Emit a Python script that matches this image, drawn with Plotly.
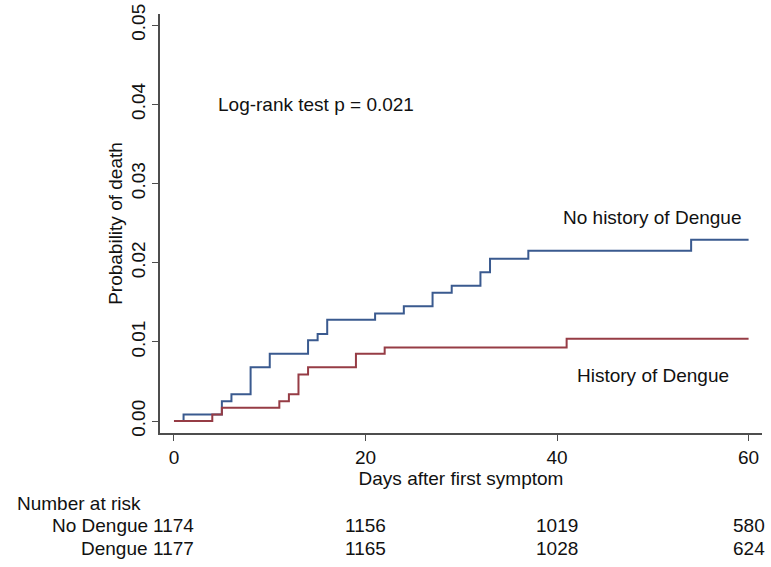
import plotly.graph_objects as go

# Kaplan-Meier step data (day, cumulative probability of death)
no_dengue_days = [0, 1, 5, 6, 8, 10, 14, 15, 16, 21, 24, 27, 29, 32, 33, 37, 54, 60]
no_dengue_prob = [0.0, 0.00085, 0.0025, 0.0034, 0.0068, 0.0085, 0.0102, 0.0110, 0.0128,
                  0.0136, 0.0145, 0.0162, 0.0171, 0.0188, 0.0205, 0.0215, 0.0229, 0.0229]

dengue_days = [0, 4, 5, 11, 12, 13, 14, 19, 22, 41, 60]
dengue_prob = [0.0, 0.00085, 0.0017, 0.0025, 0.0034, 0.0059, 0.0068, 0.0085, 0.0093,
               0.0104, 0.0104]

x_ticks = [0, 20, 40, 60]
y_ticks = [0.00, 0.01, 0.02, 0.03, 0.04, 0.05]
y_tick_labels = ["0.00", "0.01", "0.02", "0.03", "0.04", "0.05"]

risk_groups = ["No Dengue", "Dengue"]
risk_no_dengue = [1174, 1156, 1019, 580]
risk_dengue = [1177, 1165, 1028, 624]

BLUE = "#3a5a8f"
RED = "#963c45"
AXIS = "#4d4d4d"
FONT = "Liberation Sans, Arial, Helvetica, sans-serif"
FS = 19

fig = go.Figure()
fig.add_trace(go.Scatter(x=no_dengue_days, y=no_dengue_prob, mode="lines",
                         line=dict(shape="hv", color=BLUE, width=2), showlegend=False))
fig.add_trace(go.Scatter(x=dengue_days, y=dengue_prob, mode="lines",
                         line=dict(shape="hv", color=RED, width=2), showlegend=False))

annotations = [
    dict(x=14.8, y=0.0400, xref="x", yref="y", text="Log-rank test p = 0.021",
         showarrow=False, xanchor="center", yanchor="middle"),
    dict(x=50, y=0.0257, xref="x", yref="y", text="No history of Dengue",
         showarrow=False, xanchor="center", yanchor="middle"),
    dict(x=50, y=0.0058, xref="x", yref="y", text="History of Dengue",
         showarrow=False, xanchor="center", yanchor="middle"),
    dict(x=0, y=0, xref="paper", yref="paper", text="Number at risk",
         showarrow=False, xanchor="left", yanchor="middle", xshift=-145, yshift=-70),
]
row_shifts = [-92, -115]
for grp, vals, ys in zip(risk_groups, [risk_no_dengue, risk_dengue], row_shifts):
    annotations.append(dict(x=x_ticks[0], y=0, xref="x", yref="paper", text=grp,
                            showarrow=False, xanchor="right", yanchor="middle",
                            xshift=-24, yshift=ys))
    for xt, v in zip(x_ticks, vals):
        annotations.append(dict(x=xt, y=0, xref="x", yref="paper", text=str(v),
                                showarrow=False, xanchor="center", yanchor="middle",
                                yshift=ys))

fig.update_layout(
    width=771, height=567,
    margin=dict(l=160, r=9, t=14, b=134, autoexpand=False),
    paper_bgcolor="white", plot_bgcolor="white",
    font=dict(family=FONT, size=FS, color="#111111"),
    annotations=annotations,
    xaxis=dict(range=[-1.46, 61.4], tickvals=x_ticks, ticks="outside", ticklen=6,
               tickcolor=AXIS, showline=True, linecolor=AXIS, linewidth=1.5,
               showgrid=False, zeroline=False, tickfont=dict(size=FS),
               automargin=False, ticklabeloverflow="allow",
               title=dict(text="Days after first symptom", standoff=2,
                          font=dict(size=FS))),
    yaxis=dict(range=[-0.0015, 0.0514], tickvals=y_ticks, ticktext=y_tick_labels,
               ticks="outside", ticklen=6, tickcolor=AXIS, tickangle=-90,
               showline=True, linecolor=AXIS, linewidth=1.5,
               showgrid=False, zeroline=False, tickfont=dict(size=FS),
               automargin=False, ticklabeloverflow="allow",
               title=dict(text="Probability of death", standoff=0,
                          font=dict(size=FS))),
)

# Remove the default page margin so the figure fills the window exactly.
fig.write_html("out.html",
               config={"displayModeBar": False},
               post_script="document.body.style.margin='0';document.body.style.overflow='hidden';")
